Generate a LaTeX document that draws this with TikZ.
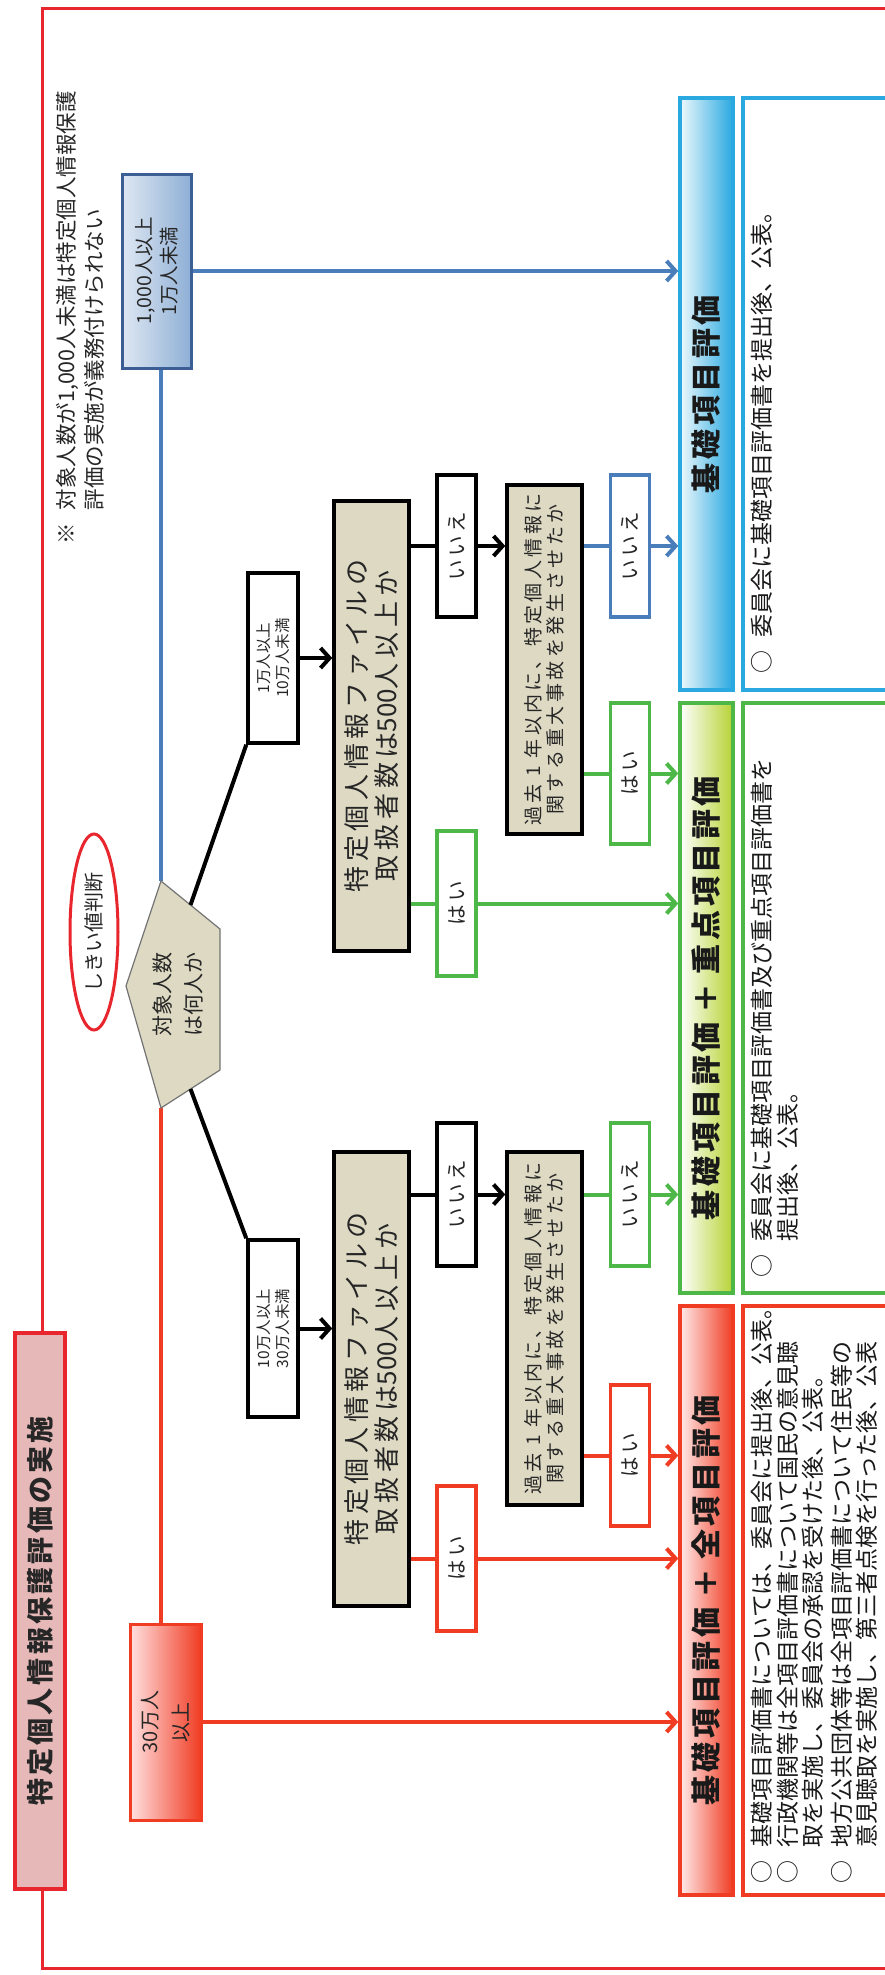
\documentclass[tikz,border=0pt]{standalone}
\usepackage{fontspec}
\setmainfont{Noto Sans CJK JP}
\newfontfamily\jpwide[LetterSpace=12]{Noto Sans CJK JP}
\newfontfamily\jpsp[LetterSpace=18]{Noto Sans CJK JP}
\usetikzlibrary{arrows.meta,shapes.geometric,calc}
\definecolor{fr}{HTML}{E8262D}
\definecolor{titlef}{HTML}{E6B9B8}
\definecolor{tanf}{HTML}{DDD9C3}
\definecolor{blueL}{HTML}{4A7EBB}
\definecolor{blueD}{HTML}{3B5F95}
\definecolor{redL}{HTML}{F03C23}
\definecolor{greenL}{HTML}{4DB848}
\definecolor{cyanL}{HTML}{29A9E0}
\definecolor{ygreen}{HTML}{B5D334}
\newcommand\jfs[2]{\fontsize{#1}{#2}\selectfont}
\begin{document}
\begin{tikzpicture}[x=1pt,y=-1pt,
  conn/.style={line width=4},
  arr/.style={line width=4,-{Straight Barb[length=9pt,width=20pt]}},
  tanbox/.style={draw=black,fill=tanf,line width=3.5,inner sep=0},
  lbl/.style={draw=#1,fill=white,line width=3.5,inner sep=0,minimum width=39},
  txt/.style={rotate=90,align=center,inner sep=0,text=black!85},
  yn/.style={rotate=90,inner sep=0,text=black!85,font=\jpsp\jfs{20.5}{24}},
  hdr/.style={draw=#1,line width=3.5,inner sep=0,minimum width=53},
  htxt/.style={rotate=90,inner sep=0,text=black!90,font=\jpwide\bfseries\jfs{30}{32}},
  desc/.style={draw=#1,fill=white,line width=3.5,inner sep=0,minimum width=162},
  dtxt/.style={rotate=90,anchor=north west,align=left,inner sep=0,font=\jfs{23}{25.5},text=black!90}]
\useasboundingbox (0,0) rectangle (884,1975);
\fill[white] (0,0) rectangle (884,1975);
% outer frame
\draw[fr,line width=3] (42,9) rectangle (905,1968);
% title
\node[draw=fr,fill=titlef,line width=3.5,inner sep=0,minimum width=50,minimum height=556] (title) at (40,1611) {};
\node[txt,font=\jpwide\bfseries\jfs{27}{30}] (titlet) at (title) {特定個人情報保護評価の実施};
% note
\node[rotate=90,anchor=north west,align=left,inner sep=0,font=\jfs{21.5}{28},text=black!85] (note) at (56,545)
  {※\hspace{0.6em}対象人数が1,000人未満は特定個人情報保護\\\hspace{1.6em}評価の実施が義務付けられない};
% ellipse
\node[ellipse,draw=fr,fill=white,line width=3,minimum width=48,minimum height=196,inner sep=0] (ell) at (94,932) {};
\node[txt,font=\jfs{20}{24}] (ellt) at (ell) {しきい値判断};
% pentagon
\coordinate (pL) at (126,986);
\coordinate (pT) at (161,881);
\coordinate (pTR) at (220,929);
\coordinate (pBR) at (220,1070);
\coordinate (pB) at (161,1108);
\coordinate (pUE) at ($(pT)!0.5!(pTR)$);
\coordinate (pLE) at ($(pBR)!0.5!(pB)$);
% boxes
\node[draw=blueD,line width=3,left color=blueL!18!white,right color=blueL!62!white,inner sep=0,minimum width=69,minimum height=194] (b1000) at (156.5,271) {};
\node[txt,font=\jfs{19.5}{25}] (b1000t) at (b1000) {1,000人以上\\1万人未満};
\node[draw=redL,line width=3,left color=red!12!white,right color=redL,inner sep=0,minimum width=71,minimum height=196] (b30) at (165.5,1722) {};
\node[txt,font=\jfs{20}{31}] (b30t) at (b30) {30万人\\以上};
% connectors from pentagon
\draw[blueL,conn] (pT) -- (pT |- b1000.south);
\draw[redL,conn] (pB) -- (pB |- b30.north);
\draw[fill=tanf,draw=black!55,line width=1.2] (pL)--(pT)--(pTR)--(pBR)--(pB)--cycle;
\node[txt,font=\jfs{21}{31}] (pent) at (178,994) {対象人数\\は何人か};
\node[draw=black,fill=white,line width=3.5,inner sep=0,minimum width=50,minimum height=170] (k1) at (273,658) {};
\node[txt,font=\jfs{15.5}{19}] (k1t) at (k1) {1万人以上\\10万人未満};
\node[draw=black,fill=white,line width=3.5,inner sep=0,minimum width=50,minimum height=177] (k2) at (273,1328.5) {};
\node[txt,font=\jfs{15.5}{19}] (k2t) at (k2) {10万人以上\\30万人未満};
\draw[black,conn] (pUE) -- (k1.south west);
\draw[black,conn] (pLE) -- (k2.north west);
% big tan boxes
\node[tanbox,minimum width=75,minimum height=450] (bigU) at (371.5,726) {};
\node[txt,font=\jpsp\jfs{26}{30}] (bigUt) at (bigU) {特定個人情報ファイルの\\取扱者数は{\rmfamily 500}人以上か};
\node[tanbox,minimum width=75,minimum height=454] (bigL) at (371.5,1379) {};
\node[txt,font=\jpsp\jfs{26}{30}] (bigLt) at (bigL) {特定個人情報ファイルの\\取扱者数は{\rmfamily 500}人以上か};
\draw[black,arr] (k1.east) -- (k1.east -| bigU.west);
\draw[black,arr] (k2.east) -- (k2.east -| bigL.west);
% small tan boxes
\node[tanbox,minimum width=75,minimum height=349] (smU) at (544.5,659.5) {};
\node[txt,font=\jpsp\jfs{19}{22}] (smUt) at (smU) {過去 1 年以内に、特定個人情報に\\関する重大事故を発生させたか};
\node[tanbox,minimum width=75,minimum height=353] (smL) at (544.5,1328.5) {};
\node[txt,font=\jpsp\jfs{19}{22}] (smLt) at (smL) {過去 1 年以内に、特定個人情報に\\関する重大事故を発生させたか};
% header bands
\node[hdr=cyanL,left color=cyanL!8!white,right color=cyanL,minimum height=592] (hB) at (706.5,394) {};
\node[htxt] (hBt) at (hB) {基礎項目評価};
\node[hdr=greenL,left color=white,right color=ygreen,minimum height=590] (hG) at (706.5,998) {};
\node[htxt] (hGt) at (hG) {基礎項目評価\hspace{0.3em}＋\hspace{0.3em}重点項目評価};
\node[hdr=redL,left color=red!8!white,right color=redL,minimum height=589] (hR) at (706.5,1600.5) {};
\node[htxt] (hRt) at (hR) {基礎項目評価\hspace{0.3em}＋\hspace{0.3em}全項目評価};
% description boxes
\node[desc=cyanL,minimum height=592] (dB) at (824,394) {};
\node[dtxt] (dBt) at (751,674) {○\hspace{0.6em}委員会に基礎項目評価書を提出後、公表。};
\node[desc=greenL,minimum height=590] (dG) at (824,998) {};
\node[dtxt] (dGt) at (751,1278) {○\hspace{0.6em}委員会に基礎項目評価書及び重点項目評価書を\\\hspace{1.6em}提出後、公表。};
\node[desc=redL,minimum height=589] (dR) at (824,1600.5) {};
\node[dtxt] (dRt) at (751,1884) {○\hspace{0.6em}基礎項目評価書については、委員会に提出後、公表。\\
○\hspace{0.6em}行政機関等は全項目評価書について国民の意見聴\\
\hspace{1.6em}取を実施し、委員会の承認を受けた後、公表。\\[3pt]
○\hspace{0.6em}地方公共団体等は全項目評価書について住民等の\\
\hspace{1.6em}意見聴取を実施し、第三者点検を行った後、公表};
% blue / red direct arrows
\draw[blueL,arr] (b1000.east) -- (b1000.east -| hB.west);
\draw[redL,arr] (b30.east) -- (b30.east -| hR.west);
% labels after big boxes
\node[lbl=black,minimum height=142] (iieU) at (456.5,546) {};
\node[yn] (iieUt) at (iieU) {いいえ};
\node[lbl=greenL,minimum height=145] (haiG) at (456.5,903.5) {};
\node[yn] (haiGt) at (haiG) {はい};
\node[lbl=black,minimum height=143] (iieL) at (456.5,1194.5) {};
\node[yn] (iieLt) at (iieL) {いいえ};
\node[lbl=redL,minimum height=145] (haiR) at (456.5,1558.5) {};
\node[yn] (haiRt) at (haiR) {はい};
\draw[black,conn] (bigU.east |- iieU.center) -- (iieU.west);
\draw[black,arr] (iieU.east) -- (iieU.east -| smU.west);
\draw[black,conn] (bigL.east |- iieL.center) -- (iieL.west);
\draw[black,arr] (iieL.east) -- (iieL.east -| smL.west);
\draw[greenL,conn] (bigU.east |- haiG.center) -- (haiG.west);
\draw[greenL,arr] (haiG.east) -- (haiG.east -| hG.west);
\draw[redL,conn] (bigL.east |- haiR.center) -- (haiR.west);
\draw[redL,arr] (haiR.east) -- (haiR.east -| hR.west);
% labels after small boxes
\node[lbl=blueL,minimum height=142] (iieB) at (630,546) {};
\node[yn] (iieBt) at (iieB) {いいえ};
\node[lbl=greenL,minimum height=141] (haiG2) at (630,773.5) {};
\node[yn] (haiG2t) at (haiG2) {はい};
\node[lbl=greenL,minimum height=143] (iieG) at (630,1194.5) {};
\node[yn] (iieGt) at (iieG) {いいえ};
\node[lbl=redL,minimum height=141] (haiR2) at (630,1455.5) {};
\node[yn] (haiR2t) at (haiR2) {はい};
\draw[blueL,conn] (smU.east |- iieB.center) -- (iieB.west);
\draw[blueL,arr] (iieB.east) -- (iieB.east -| hB.west);
\draw[greenL,conn] (smU.east |- haiG2.center) -- (haiG2.west);
\draw[greenL,arr] (haiG2.east) -- (haiG2.east -| hG.west);
\draw[greenL,conn] (smL.east |- iieG.center) -- (iieG.west);
\draw[greenL,arr] (iieG.east) -- (iieG.east -| hG.west);
\draw[redL,conn] (smL.east |- haiR2.center) -- (haiR2.west);
\draw[redL,arr] (haiR2.east) -- (haiR2.east -| hR.west);
\end{tikzpicture}
\end{document}
